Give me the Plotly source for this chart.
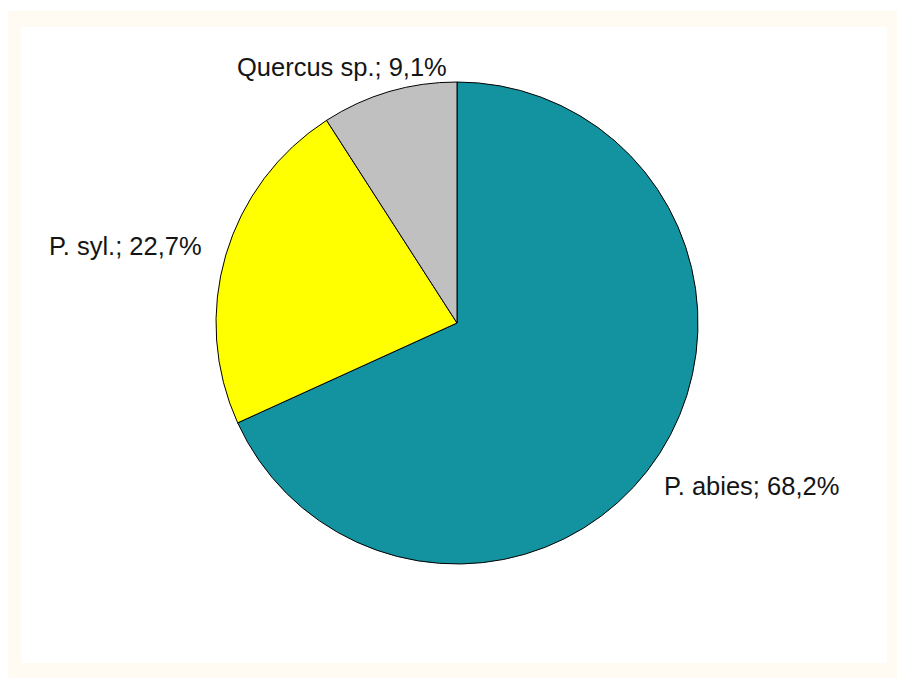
import plotly.graph_objects as go

# Species share of the stand
species = ["P. abies", "P. syl.", "Quercus sp."]
shares = [68.2, 22.7, 9.1]
colors = ["#1393A0", "#FFFF00", "#C0C0C0"]

W, H = 897, 679
cx, cy, r = 457, 323, 241  # pie centre and radius in pixels (top-left origin)

fig = go.Figure(go.Pie(
    labels=species,
    values=shares,
    sort=False,
    direction="clockwise",
    rotation=0,
    textinfo="none",
    hoverinfo="label+percent",
    marker=dict(colors=colors, line=dict(color="#000000", width=1)),
    showlegend=False,
    domain=dict(x=[(cx - r) / W, (cx + r) / W],
                y=[(H - cy - r) / H, (H - cy + r) / H]),
))

def fmt(v):
    return f"{v:.1f}".replace(".", ",") + "%"

# label anchor points (pixels, left edge / vertical centre)
label_pos = {"P. abies": (662, 486), "P. syl.": (47, 246), "Quercus sp.": (235, 67)}
annotations = []
for name, val in zip(species, shares):
    x, y = label_pos[name]
    annotations.append(dict(
        x=x / W, y=1 - y / H, xref="paper", yref="paper",
        xanchor="left", yanchor="middle", showarrow=False,
        text=f"{name}; {fmt(val)}",
        font=dict(family="Liberation Sans, Arial, sans-serif", size=25.5, color="#151515"),
    ))

# faint cream frame with white inner panel
shapes = [
    dict(type="rect", xref="paper", yref="paper",
         x0=8 / W, x1=1, y0=1 - 678 / H, y1=1 - 11 / H,
         fillcolor="#FFFBF2", line=dict(width=0), layer="below"),
    dict(type="rect", xref="paper", yref="paper",
         x0=21 / W, x1=887 / W, y0=1 - 663 / H, y1=1 - 27 / H,
         fillcolor="#FFFFFF", line=dict(width=0), layer="below"),
]

fig.update_layout(
    width=W, height=H,
    margin=dict(l=0, r=0, t=0, b=0),
    paper_bgcolor="#FFFFFF",
    plot_bgcolor="#FFFFFF",
    annotations=annotations,
    shapes=shapes,
)

fig.write_html("out.html")
